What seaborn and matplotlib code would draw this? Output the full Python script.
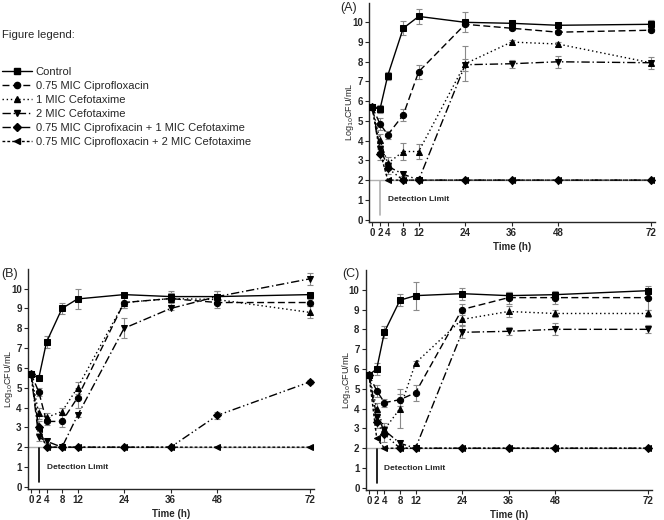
import matplotlib
matplotlib.use('Agg')
import matplotlib.pyplot as plt
from matplotlib.lines import Line2D
import seaborn as sns
import pandas as pd

sns.set_style('ticks')
plt.rcParams['font.family'] = ['Liberation Sans', 'DejaVu Sans']

time_h = [0, 2, 4, 8, 12, 24, 36, 48, 72]
series_names = ['Control', '0.75 MIC Ciprofloxacin', '1 MIC Cefotaxime', '2 MIC Cefotaxime',
                '0.75 MIC Ciprofixacin + 1 MIC Cefotaxime',
                '0.75 MIC Ciprofloxacin + 2 MIC Cefotaxime']

# panel A
a_control = [5.7, 5.6, 7.3, 9.7, 10.3, 10.0, 9.95, 9.85, 9.9]
a_cipro = [5.7, 4.85, 4.3, 5.3, 7.5, 9.9, 9.7, 9.5, 9.6]
a_cef1 = [5.7, 4.05, 2.85, 3.45, 3.45, 7.9, 9.0, 8.9, 7.95]
a_cef2 = [5.7, 3.6, 2.7, 2.3, 2.0, 7.85, 7.9, 8.0, 7.95]
a_combo1 = [5.7, 3.3, 2.6, 2.0, 2.0, 2.0, 2.0, 2.0, 2.0]
a_combo2 = [5.7, 3.45, 2.0, 2.0, 2.0, 2.0, 2.0, 2.0, 2.0]
a_control_sd = [0.1, 0.2, 0.2, 0.35, 0.4, 0.5, 0.1, 0.1, 0.2]
a_cipro_sd = [0.1, 0.3, 0.2, 0.3, 0.35, 0.1, 0.1, 0.1, 0.1]
a_cef1_sd = [0.1, 0.3, 0.3, 0.45, 0.4, 0.9, 0.1, 0.1, 0.1]
a_cef2_sd = [0.1, 0.2, 0.2, 0.1, 0.05, 0.3, 0.2, 0.3, 0.3]
a_combo1_sd = [0.1, 0.3, 0.3, 0, 0, 0, 0, 0, 0]
a_combo2_sd = [0.1, 0.2, 0, 0, 0, 0, 0, 0, 0]

# panel B
b_control = [5.7, 5.48, 7.3, 9.0, 9.48, 9.7, 9.6, 9.6, 9.7]
b_cipro = [5.7, 4.8, 3.3, 3.3, 4.5, 9.3, 9.5, 9.3, 9.3]
b_cef1 = [5.7, 3.7, 3.5, 3.8, 5.0, 9.3, 9.5, 9.45, 8.8]
b_cef2 = [5.7, 2.5, 2.3, 2.0, 3.6, 8.0, 9.0, 9.6, 10.5]
b_combo1 = [5.7, 3.0, 2.0, 2.0, 2.0, 2.0, 2.0, 3.6, 5.3]
b_combo2 = [5.7, 2.9, 2.0, 2.0, 2.0, 2.0, 2.0, 2.0, 2.0]
b_control_sd = [0.1, 0.1, 0.3, 0.3, 0.5, 0.1, 0.3, 0.3, 0.1]
b_cipro_sd = [0.1, 0.2, 0.2, 0.3, 0.5, 0.3, 0.3, 0.3, 0.2]
b_cef1_sd = [0.1, 0.3, 0.2, 0.2, 0.3, 0.3, 0.3, 0.2, 0.3]
b_cef2_sd = [0.1, 0.2, 0.1, 0, 0.1, 0.5, 0.1, 0.3, 0.3]
b_combo1_sd = [0.1, 0.3, 0, 0, 0, 0, 0, 0.2, 0.1]
b_combo2_sd = [0.1, 0, 0, 0, 0, 0, 0, 0, 0]

# panel C
c_control = [5.7, 6.0, 7.87, 9.47, 9.7, 9.8, 9.7, 9.75, 9.95]
c_cipro = [5.7, 4.9, 4.3, 4.45, 4.8, 9.0, 9.6, 9.6, 9.6]
c_cef1 = [5.7, 4.0, 2.95, 4.0, 6.3, 8.5, 8.9, 8.8, 8.8]
c_cef2 = [5.7, 3.6, 2.9, 2.25, 2.0, 7.85, 7.9, 8.0, 8.0]
c_combo1 = [5.7, 3.3, 2.7, 2.0, 2.0, 2.0, 2.0, 2.0, 2.0]
c_combo2 = [5.7, 2.5, 2.0, 2.0, 2.0, 2.0, 2.0, 2.0, 2.0]
c_control_sd = [0.1, 0.3, 0.3, 0.3, 0.7, 0.3, 0.2, 0.2, 0.1]
c_cipro_sd = [0.1, 0.3, 0.2, 0.3, 0.4, 0.3, 0.3, 0.3, 0.6]
c_cef1_sd = [0.1, 0.3, 0.3, 1.0, 0.1, 0.3, 0.3, 0.2, 0.2]
c_cef2_sd = [0.1, 0.2, 0.2, 0.1, 0, 0.3, 0.2, 0.3, 0.2]
c_combo1_sd = [0.1, 0.3, 0.4, 0, 0, 0, 0, 0, 0]
c_combo2_sd = [0.1, 0, 0, 0, 0, 0, 0, 0, 0]

markers = ['s', 'o', '^', 'v', 'D', '<']
dashes = ['', (5, 2.5), (1, 2), (6, 2, 1, 2), (6, 2, 1, 2, 1, 2), (2, 1.5)]
marker_map = dict(zip(series_names, markers))
dash_map = dict(zip(series_names, dashes))


def plot_panel(ax, values, sds, limit_color):
    df = pd.DataFrame([(n, t, v) for n, vals in zip(series_names, values)
                       for t, v in zip(time_h, vals)],
                      columns=['series', 'time', 'logcfu'])
    ax.plot([-0.8, 72], [2, 2], color='#b0b0b0', lw=1, zorder=1)
    ax.plot([2, 2], [0.25, 1.95], color=limit_color, lw=1.2, zorder=1)
    for vals, sd in zip(values, sds):
        ax.errorbar(time_h, vals, yerr=sd, fmt='none', ecolor='#8a8a8a',
                    elinewidth=0.8, capsize=2, capthick=0.8, zorder=2)
    sns.lineplot(data=df, x='time', y='logcfu', style='series', style_order=series_names,
                 markers=marker_map, dashes=dash_map, color='black', linewidth=1,
                 markersize=4.5, markeredgecolor='black', legend=False, ax=ax, zorder=3)
    ax.text(4, 1.0, 'Detection Limit', fontsize=6, fontweight='bold', va='center')
    ax.set_xlim(-0.8, 73)
    ax.set_ylim(-0.1, 11)
    ax.set_xticks(time_h)
    ax.set_yticks(range(0, 11))
    ax.tick_params(labelsize=7, length=3, width=0.8, pad=1.5)
    for t in ax.get_xticklabels() + ax.get_yticklabels():
        t.set_fontweight('bold')
    ax.set_xlabel('Time (h)', fontsize=7, fontweight='bold', labelpad=3)
    ax.set_ylabel('Log$_{10}$CFU/mL', fontsize=6.5)
    ax.yaxis.set_label_coords(-0.045, 0.5)
    sns.despine(ax=ax)
    for s in ax.spines.values():
        s.set_linewidth(1)


fig = plt.figure(figsize=(6.64, 5.2), dpi=100)
ax_a = fig.add_axes([0.556, 0.574, 0.43, 0.421])
ax_b = fig.add_axes([0.042, 0.060, 0.431, 0.423])
ax_c = fig.add_axes([0.551, 0.058, 0.431, 0.423])

plot_panel(ax_a, [a_control, a_cipro, a_cef1, a_cef2, a_combo1, a_combo2],
           [a_control_sd, a_cipro_sd, a_cef1_sd, a_cef2_sd, a_combo1_sd, a_combo2_sd],
           '#b0b0b0')
plot_panel(ax_b, [b_control, b_cipro, b_cef1, b_cef2, b_combo1, b_combo2],
           [b_control_sd, b_cipro_sd, b_cef1_sd, b_cef2_sd, b_combo1_sd, b_combo2_sd],
           'black')
plot_panel(ax_c, [c_control, c_cipro, c_cef1, c_cef2, c_combo1, c_combo2],
           [c_control_sd, c_cipro_sd, c_cef1_sd, c_cef2_sd, c_combo1_sd, c_combo2_sd],
           'black')

fig.text(340 / 664, 1 - 2 / 520, '(A)', fontsize=9, va='top')
fig.text(1 / 664, 1 - 268 / 520, '(B)', fontsize=9, va='top')
fig.text(342 / 664, 1 - 268 / 520, '(C)', fontsize=9, va='top')

fig.text(0.003, 1 - 35 / 520, 'Figure legend:', fontsize=8.2, va='center')
handles = [Line2D([], [], color='black', lw=1, marker=m, markersize=4.5,
                  linestyle='-' if d == '' else (0, d)) for m, d in zip(markers, dashes)]
fig.legend(handles, series_names, loc='upper left', bbox_to_anchor=(-0.003, 0.88),
           frameon=False, fontsize=8, handlelength=2.7, handletextpad=0.3,
           labelspacing=0.36, borderaxespad=0)

fig.savefig('out.png', dpi=100)
